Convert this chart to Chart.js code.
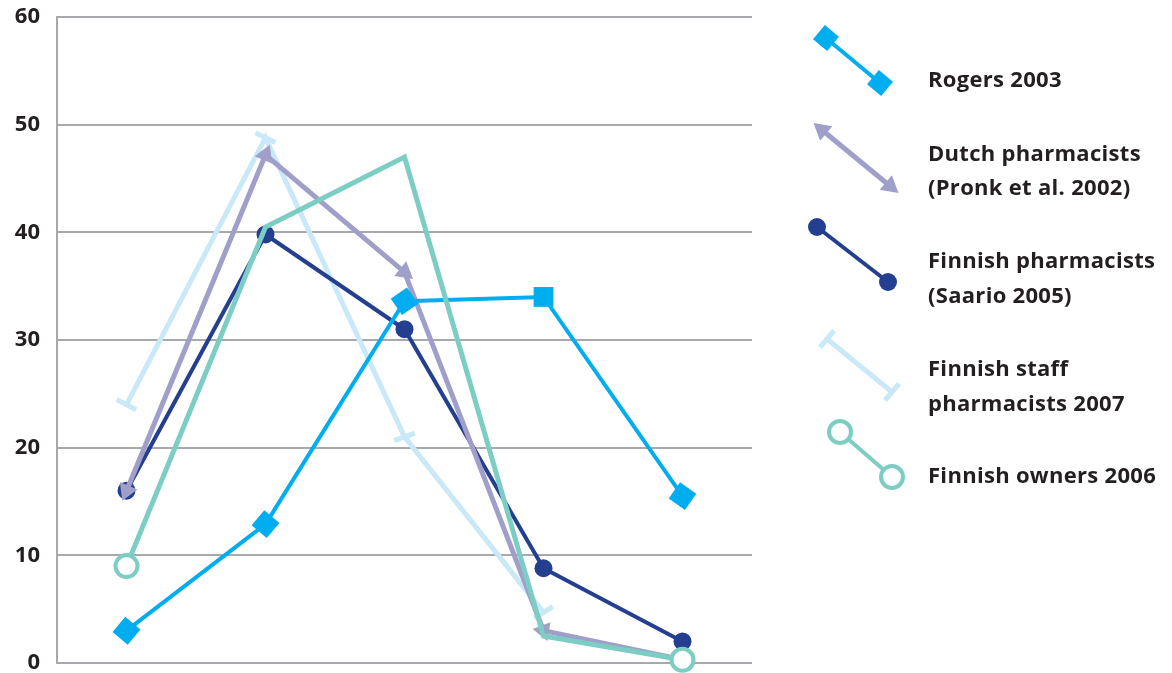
<!DOCTYPE html>
<html>
<head>
<meta charset="utf-8">
<script src="https://cdn.jsdelivr.net/npm/chart.js@4"></script>
<style>
  body { margin: 0; background: #fff; }
  #wrap { width: 1172px; height: 673px; }
</style>
</head>
<body>
<div id="wrap"><canvas id="chart"></canvas></div>
<script>
// data
const categories = ['1', '2', '3', '4', '5'];
const rogers = [3, 12.9, 33.6, 34, 15.5];
const dutch = [16, 47.2, 36.3, 3, 0.3];
const finnishPharm = [16, 39.8, 31, 8.8, 2];
const finnishStaff = [24, 48.8, 21, 4.7, null];
const finnishOwners = [9, 40.5, 47, 2.5, 0.3];
const yTicks = [0, 10, 20, 30, 40, 50, 60];

const seriesNames = ['Rogers 2003', 'Dutch pharmacists\n(Pronk et al. 2002)', 'Finnish pharmacists\n(Saario 2005)',
  'Finnish staff\npharmacists 2007', 'Finnish owners 2006'];

const C_ROGERS = '#00aeef';
const C_DUTCH = '#a09fca';
const C_NAVY = '#243f8f';
const C_STAFF = '#c9e8f8';
const C_OWNERS = '#7ccdc3';
const FONT = '"Open Sans", sans-serif';

// legend drawn by hand on the right side
const sideLegend = {
  id: 'sideLegend',
  afterDraw(chart) {
    const ctx = chart.ctx;
    const items = [
      { color: C_ROGERS, fill: C_ROGERS, style: 'rect', r: 13, bw: 0, lw: 4,
        a: [826, 38], b: [880, 83], rotA: 40, rotB: 40, text: [['Rogers 2003', 81]] },
      { color: C_DUTCH, fill: C_DUTCH, style: 'triangle', r: 11, bw: 0, lw: 5,
        a: [822, 130], b: [890, 186], rotA: -50, rotB: 130, text: [['Dutch pharmacists', 155], ['(Pronk et al. 2002)', 189]] },
      { color: C_NAVY, fill: C_NAVY, style: 'circle', r: 9, bw: 0, lw: 4,
        a: [817, 227], b: [888, 282], rotA: 0, rotB: 0, text: [['Finnish pharmacists', 262], ['(Saario 2005)', 297]] },
      { color: C_STAFF, fill: C_STAFF, style: 'line', r: 11, bw: 5, lw: 5,
        a: [827, 339], b: [892, 392], rotA: -50, rotB: -50, text: [['Finnish staff', 370], ['pharmacists 2007', 405]] },
      { color: C_OWNERS, fill: '#fff', style: 'circle', r: 11, bw: 4, lw: 4,
        a: [840, 432], b: [892, 477], rotA: 0, rotB: 0, text: [['Finnish owners 2006', 477]] }
    ];
    ctx.save();
    items.forEach(it => {
      ctx.strokeStyle = it.color;
      ctx.lineWidth = it.lw;
      ctx.beginPath();
      ctx.moveTo(it.a[0], it.a[1]);
      ctx.lineTo(it.b[0], it.b[1]);
      ctx.stroke();
      ctx.fillStyle = it.fill;
      ctx.strokeStyle = it.color;
      ctx.lineWidth = it.bw;
      [[it.a, it.rotA], [it.b, it.rotB]].forEach(([p, rot]) => {
        Chart.helpers.drawPoint(ctx, { pointStyle: it.style, radius: it.r, rotation: rot, borderWidth: it.bw }, p[0], p[1]);
      });
      ctx.fillStyle = '#231f20';
      ctx.font = 'bold 22px ' + FONT;
      ctx.letterSpacing = '0.3px';
      ctx.textBaseline = 'middle';
      ctx.textAlign = 'left';
      it.text.forEach(([t, y]) => ctx.fillText(t, 928, y));
    });
    ctx.restore();
  }
};

new Chart(document.getElementById('chart'), {
  type: 'line',
  data: {
    labels: categories,
    datasets: [
      {
        label: seriesNames[0],
        data: rogers,
        borderColor: C_ROGERS,
        backgroundColor: C_ROGERS,
        borderWidth: 4,
        pointStyle: 'rect',
        pointRadius: 14,
        pointRotation: [40, 40, 55, 0, 35],
        pointBorderWidth: 0,
        order: 1
      },
      {
        label: seriesNames[1],
        data: dutch,
        borderColor: C_DUTCH,
        backgroundColor: C_DUTCH,
        borderWidth: 5,
        pointStyle: 'triangle',
        pointRadius: [11, 11, 11, 11, 6],
        pointRotation: [203, 23, 129, 159, 160],
        pointBorderWidth: 0,
        order: 2
      },
      {
        label: seriesNames[2],
        data: finnishPharm,
        borderColor: C_NAVY,
        backgroundColor: C_NAVY,
        borderWidth: 4,
        pointStyle: 'circle',
        pointRadius: 9,
        pointBorderWidth: 0,
        order: 4
      },
      {
        label: seriesNames[3],
        data: finnishStaff,
        borderColor: C_STAFF,
        backgroundColor: C_STAFF,
        borderWidth: 5,
        pointStyle: 'line',
        pointRadius: 11,
        pointBorderWidth: 5,
        pointRotation: [28, 26, -20, -32, 0],
        order: 5
      },
      {
        label: seriesNames[4],
        data: finnishOwners,
        borderColor: C_OWNERS,
        backgroundColor: '#fff',
        borderWidth: 5,
        pointStyle: 'circle',
        pointRadius: [11, 0, 0, 0, 11],
        pointBorderWidth: 4,
        order: 0
      }
    ]
  },
  options: {
    responsive: true,
    maintainAspectRatio: false,
    animation: false,
    clip: false,
    layout: { autoPadding: false, padding: { top: 17, right: 420, bottom: 10, left: 0 } },
    plugins: {
      legend: { display: false },
      tooltip: { enabled: false }
    },
    scales: {
      x: {
        display: false,
        offset: true
      },
      y: {
        min: 0,
        max: 60,
        afterBuildTicks: scale => { scale.ticks = yTicks.map(v => ({ value: v })); },
        afterFit: scale => {
          scale.width = 57;
          scale.paddingTop = 0;
          scale.paddingBottom = 0;
        },
        grid: { color: '#a7a9ac', lineWidth: 2, drawTicks: false },
        border: { color: '#a7a9ac', width: 2 },
        ticks: {
          padding: 17,
          color: '#231f20',
          font: { family: FONT, size: 22, weight: 'bold' }
        }
      }
    }
  },
  plugins: [sideLegend]
});
</script>
</body>
</html>
